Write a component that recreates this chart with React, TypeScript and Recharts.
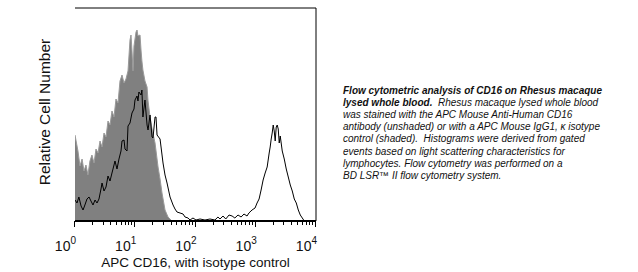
import {
  ComposedChart,
  Area,
  Line,
  XAxis,
  YAxis,
  ReferenceLine,
  Label,
} from "recharts";

// fluorescence intensity (APC) -> relative cell count
const isotypeIntensity = [
  1.0, 1.12, 1.21, 1.31, 1.41, 1.52, 1.64, 1.77, 1.91, 2.07, 2.23, 2.41, 2.6,
  2.81, 3.03, 3.27, 3.53, 3.81, 4.11, 4.44, 4.79, 5.17, 5.58, 6.03, 6.51, 7.02,
  7.58, 8.18, 8.5, 8.83, 9.18, 9.53, 10.3, 10.7, 11.1, 12.0, 12.5, 12.9, 13.4,
  14.5, 15.7, 16.3, 17.6, 19.0, 21.3, 23.9, 25.8, 27.8, 31.2, 35.0, 40.7,
];
const isotypeCount = [
  86, 70, 55, 62, 50, 56, 46, 60, 66, 58, 72, 68, 80, 74, 88, 84, 100, 96, 110,
  104, 122, 118, 140, 146, 138, 142, 150, 181, 186, 170, 150, 175, 189, 191,
  185, 186, 170, 160, 151, 140, 134, 120, 104, 92, 78, 54, 42, 28, 11, 4, 0,
];

const cd16Intensity = [
  1.0, 1.08, 1.16, 1.26, 1.36, 1.46, 1.58, 1.71, 1.84, 1.99, 2.15, 2.32, 2.5,
  2.7, 2.81, 3.03, 3.27, 3.53, 3.81, 4.11, 4.44, 4.61, 4.98, 5.37, 5.8, 6.03,
  6.51, 6.76, 7.3, 7.58, 8.18, 8.83, 9.53, 9.9, 10.7, 11.1, 11.5, 12.5, 12.9,
  13.4, 13.9, 14.5, 15.7, 16.3, 17.6, 19.0, 19.7, 21.3, 22.1, 23.0, 25.8, 28.9,
  31.2, 33.7, 37.8, 42.4, 45.7, 49.3, 55.4, 62.1, 67.0, 75.2, 81.1, 90.8, 101.9,
  118.8, 143.7, 173.9, 210, 236, 255, 286, 318, 360, 405, 450, 508, 571, 638,
  717, 770, 867, 973, 1051, 1136, 1227, 1325, 1432, 1547, 1671, 1736, 1805,
  1875, 1949, 2025, 2104, 2187, 2272, 2361, 2453, 2550, 2753, 2972, 3209, 3465,
  3740, 4038, 4360, 4707, 5082, 5486, 5923, 6394, 10000,
];
const cd16Count = [
  21, 18, 24, 15, 11, 16, 22, 24, 20, 16, 21, 18, 22, 32, 38, 30, 34, 45, 40,
  48, 56, 60, 52, 62, 70, 80, 81, 72, 70, 95, 98, 108, 112, 121, 125, 120, 129,
  126, 131, 104, 112, 121, 96, 91, 106, 84, 83, 104, 104, 86, 82, 58, 46, 38,
  24, 16, 12, 9, 8, 7, 4, 3, 1, 3, 1, 2, 1, 2, 1, 4, 2, 5, 2, 6, 5, 3, 6, 4, 7,
  5, 8, 11, 13, 18, 22, 31, 41, 48, 54, 68, 74, 82, 88, 96, 90, 80, 94, 96, 92,
  78, 85, 70, 62, 52, 44, 36, 30, 22, 18, 11, 6, 3, 0, 0,
];

const majorTicks = [1, 10, 100, 1000, 10000];
const minorTicks = [
  2, 3, 4, 5, 6, 7, 8, 9, 20, 30, 40, 50, 60, 70, 80, 90, 200, 300, 400, 500,
  600, 700, 800, 900, 2000, 3000, 4000, 5000, 6000, 7000, 8000, 9000,
];
const exponents = ["0", "1", "2", "3", "4"];

const isotypeData = isotypeIntensity.map((x, i) => ({ x, count: isotypeCount[i] }));
const cd16Data = cd16Intensity.map((x, i) => ({ x, count: cd16Count[i] }));

const FONT = "'Liberation Sans', Arial, sans-serif";

// draws its own tick mark (longer on decades) and the 10^n label
function LogTick(props: any) {
  const { x, y, payload } = props;
  const idx = majorTicks.indexOf(payload.value);
  const px = Math.round(x) - 0.5;
  return (
    <g>
      <rect
        x={px - 0.5}
        y={y}
        width={1}
        height={idx >= 0 ? 6 : 4}
        fill="#000"
        shapeRendering="crispEdges"
      />
      {idx >= 0 && (
        <text x={x + 1} y={y + 30} textAnchor="end" fontFamily={FONT} fill="#111">
          <tspan fontSize={14}>10</tspan>
          <tspan fontSize={10} dy={-7}>
            {exponents[idx]}
          </tspan>
        </text>
      )}
    </g>
  );
}

function Histogram() {
  return (
    <ComposedChart
      width={330}
      height={272}
      margin={{ top: 8, right: 14, left: 75, bottom: 21 }}
    >
      <XAxis
        dataKey="x"
        type="number"
        scale="log"
        domain={[1, 10000]}
        allowDataOverflow
        ticks={[...majorTicks, ...minorTicks]}
        interval={0}
        tickSize={0}
        tickMargin={0}
        tickLine={false}
        tick={LogTick}
        height={30}
        axisLine={{ stroke: "#000", strokeWidth: 2 }}
      >
        <Label
          content={({ viewBox }: any) => (
            <text
              x={viewBox.x + viewBox.width / 2}
              y={viewBox.y + 46}
              textAnchor="middle"
              fontFamily={FONT}
              fontSize={13.5}
              fill="#111"
            >
              APC CD16, with isotype control
            </text>
          )}
        />
      </XAxis>
      <YAxis
        type="number"
        domain={[0, 213]}
        width={0}
        tick={false}
        tickLine={false}
        axisLine={{ stroke: "#000", strokeWidth: 2 }}
      />
      <ReferenceLine y={213} stroke="#000" strokeWidth={1} />
      <ReferenceLine x={10000} stroke="#000" strokeWidth={1} />
      <Area
        data={isotypeData}
        dataKey="count"
        type="linear"
        fill="#808080"
        fillOpacity={1}
        stroke="#9a9a9a"
        strokeWidth={1}
        isAnimationActive={false}
      />
      <Line
        data={cd16Data}
        dataKey="count"
        type="linear"
        stroke="#000"
        strokeWidth={1}
        dot={false}
        isAnimationActive={false}
      />
    </ComposedChart>
  );
}

export default function App() {
  return (
    <div
      style={{
        position: "absolute",
        left: 0,
        top: 0,
        width: 638,
        height: 272,
        background: "#fff",
      }}
    >
      <Histogram />
      <div
        style={{
          position: "absolute",
          left: 45,
          top: 112,
          transform: "translate(-50%, -50%) rotate(-90deg)",
          fontFamily: FONT,
          fontSize: 15.5,
          whiteSpace: "nowrap",
          color: "#111",
        }}
      >
        Relative Cell Number
      </div>
      <div
        style={{
          position: "absolute",
          left: 343,
          top: 84.6,
          fontFamily: FONT,
          fontSize: 10,
          fontStyle: "italic",
          lineHeight: "12.2px",
          whiteSpace: "nowrap",
          color: "#111",
        }}
      >
        <b>Flow cytometric analysis of CD16 on Rhesus macaque</b>
        <br />
        <b>lysed whole blood.</b>&nbsp; Rhesus macaque lysed whole blood
        <br />
        was stained with the APC Mouse Anti-Human CD16
        <br />
        antibody (unshaded) or with a APC Mouse IgG1, κ isotype
        <br />
        control (shaded).&nbsp; Histograms were derived from gated
        <br />
        events based on light scattering characteristics for
        <br />
        lymphocytes. Flow cytometry was performed on a
        <br />
        BD LSR™ II flow cytometry system.
      </div>
    </div>
  );
}
